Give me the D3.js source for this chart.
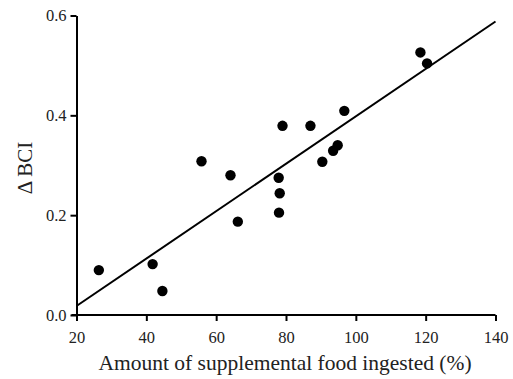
<!DOCTYPE html>
<html><head><meta charset="utf-8">
<script src="https://cdn.jsdelivr.net/npm/d3@7"></script>
<style>body{margin:0;background:#fff}svg{display:block}</style>
</head><body>
<script>
const foodPct = [26.4, 41.8, 44.6, 66.2, 55.8, 64.1, 79.0, 87.0, 96.7, 118.5, 120.4, 94.8, 93.5, 90.4, 77.9, 78.2, 78.0];
const deltaBCI = [0.090, 0.102, 0.048, 0.187, 0.308, 0.280, 0.379, 0.379, 0.409, 0.526, 0.504, 0.340, 0.329, 0.307, 0.275, 0.244, 0.205];
const fitX = [20, 140];
const fitY = [0.018, 0.588];
const xTicks = [20, 40, 60, 80, 100, 120, 140];
const yTicks = [0.0, 0.2, 0.4, 0.6];

const W = 513, H = 379;
const svg = d3.select("body").append("svg").attr("width", W).attr("height", H);
const x = d3.scaleLinear().domain([20, 140]).range([76.5, 495.5]);
const y = d3.scaleLinear().domain([0, 0.6]).range([315, 15.5]);
const font = "'Liberation Serif','Times New Roman',serif";

const gx = svg.append("g").attr("transform", "translate(0,315)")
  .call(d3.axisBottom(x).tickValues(xTicks).tickFormat(d3.format("d")).tickSize(6).tickSizeOuter(0));
const gy = svg.append("g").attr("transform", "translate(76.5,0)")
  .call(d3.axisLeft(y).tickValues(yTicks).tickFormat(d3.format(".1f")).tickSize(6).tickSizeOuter(0));
[gx, gy].forEach(g => {
  g.attr("font-family", null).attr("font-size", null);
  g.select(".domain").attr("stroke", "#000").attr("stroke-width", 2);
  g.selectAll(".tick line").attr("stroke", "#000").attr("stroke-width", 2);
  g.selectAll(".tick text").style("font-family", font).style("font-size", "16.5px").attr("fill", "#222");
});
gx.select(".domain").attr("d", `M${x(20)-5},0H${x(140)}`);
gx.selectAll(".tick text").attr("dy", null).attr("y", 28);
gy.selectAll(".tick text").attr("x", -10);

svg.append("line")
  .attr("x1", x(fitX[0])).attr("y1", y(fitY[0]))
  .attr("x2", x(fitX[1])).attr("y2", y(fitY[1]))
  .attr("stroke", "#000").attr("stroke-width", 2);

svg.append("g").selectAll("circle").data(foodPct).join("circle")
  .attr("cx", (d) => x(d)).attr("cy", (d, i) => y(deltaBCI[i]))
  .attr("r", 5.2).attr("fill", "#000");

svg.append("text").attr("x", 285).attr("y", 370)
  .attr("text-anchor", "middle").style("font-family", font).style("font-size", "21.5px").attr("fill", "#222")
  .text("Amount of supplemental food ingested (%)");
svg.append("text").attr("transform", "translate(32,168) rotate(-90)")
  .attr("text-anchor", "middle").style("font-family", font).style("font-size", "21px").attr("fill", "#222")
  .text("Δ BCI");
</script>
</body></html>
